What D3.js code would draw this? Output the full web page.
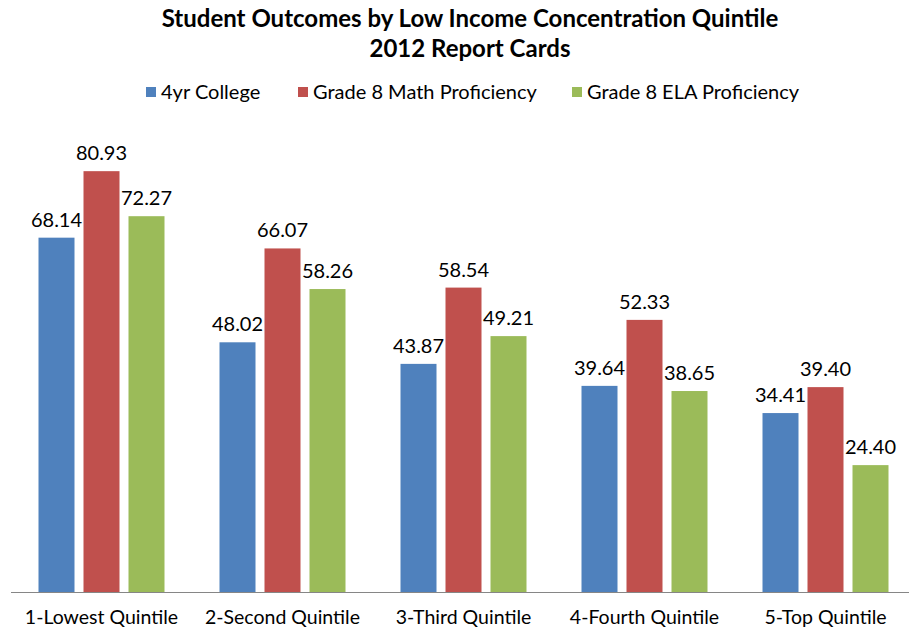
<!DOCTYPE html>
<html>
<head>
<meta charset="utf-8">
<script src="https://cdn.jsdelivr.net/npm/d3@7"></script>
<style>
  body { margin: 0; background: #fff; }
  text { font-family: Lato, "Open Sans", sans-serif; fill: #000; }
</style>
</head>
<body>
<script>
var width = 909;
var height = 635;

// data
var categories = ["1-Lowest Quintile", "2-Second Quintile", "3-Third Quintile", "4-Fourth Quintile", "5-Top Quintile"];
var seriesNames = ["4yr College", "Grade 8 Math Proficiency", "Grade 8 ELA Proficiency"];
var college = [68.14, 48.02, 43.87, 39.64, 34.41];
var math = [80.93, 66.07, 58.54, 52.33, 39.40];
var ela = [72.27, 58.26, 49.21, 38.65, 24.40];
var colors = ["#4f81bd", "#c0504d", "#9bbb59"];
var titleLines = ["Student Outcomes by Low Income Concentration Quintile", "2012 Report Cards"];

var series = [college, math, ela];

var svg = d3.select("body").append("svg")
  .attr("width", width)
  .attr("height", height);

var x0 = d3.scaleBand().domain(categories).range([11, 916]).paddingInner(0).paddingOuter(0);
var x1 = d3.scaleBand().domain(d3.range(3)).range([27.5, 181 - 27.5]).paddingInner(0.2).paddingOuter(0);
var y = d3.scaleLinear().domain([0, 90]).range([592, 124]);

// title
svg.selectAll(".title").data(titleLines).enter().append("text")
  .attr("class", "title")
  .attr("x", 470)
  .attr("y", function(d, i) { return 27 + i * 30; })
  .attr("text-anchor", "middle")
  .style("font-size", "24px")
  .style("font-weight", "bold")
  .text(function(d) { return d; });

// legend
var legendX = [146, 298, 572];
var legend = svg.selectAll(".legend").data(seriesNames).enter().append("g")
  .attr("class", "legend")
  .attr("transform", function(d, i) { return "translate(" + legendX[i] + ",92)"; });
legend.append("rect")
  .attr("x", 0).attr("y", -5)
  .attr("width", 10).attr("height", 10)
  .style("fill", function(d, i) { return colors[i]; });
legend.append("text")
  .attr("x", 15).attr("y", 7)
  .style("font-size", "20px")
  .text(function(d) { return d; });

// bars
var groups = svg.selectAll(".group").data(categories).enter().append("g")
  .attr("class", "group")
  .attr("transform", function(d) { return "translate(" + x0(d) + ",0)"; });

groups.selectAll("rect").data(function(d, ci) {
    return series.map(function(s, si) { return { si: si, v: s[ci] }; });
  }).enter().append("rect")
  .attr("x", function(d) { return x1(d.si); })
  .attr("y", function(d) { return y(d.v); })
  .attr("width", x1.bandwidth())
  .attr("height", function(d) { return y(0) - y(d.v); })
  .style("fill", function(d) { return colors[d.si]; });

groups.selectAll(".lbl").data(function(d, ci) {
    return series.map(function(s, si) { return { si: si, v: s[ci] }; });
  }).enter().append("text")
  .attr("class", "lbl")
  .attr("x", function(d) { return x1(d.si) + x1.bandwidth() / 2; })
  .attr("y", function(d) { return y(d.v) - 11; })
  .attr("text-anchor", "middle")
  .style("font-size", "20px")
  .text(function(d) { return d.v.toFixed(2); });

// x axis
var xAxis = svg.append("g")
  .attr("transform", "translate(0," + y(0) + ")")
  .call(d3.axisBottom(x0).tickSize(0).tickPadding(18));
xAxis.select(".domain").attr("stroke", "#868686").attr("d", "M11,0.5H909");
xAxis.selectAll("text")
  .style("font-size", "19.5px")
  .style("font-family", "Lato, 'Open Sans', sans-serif");
</script>
</body>
</html>
